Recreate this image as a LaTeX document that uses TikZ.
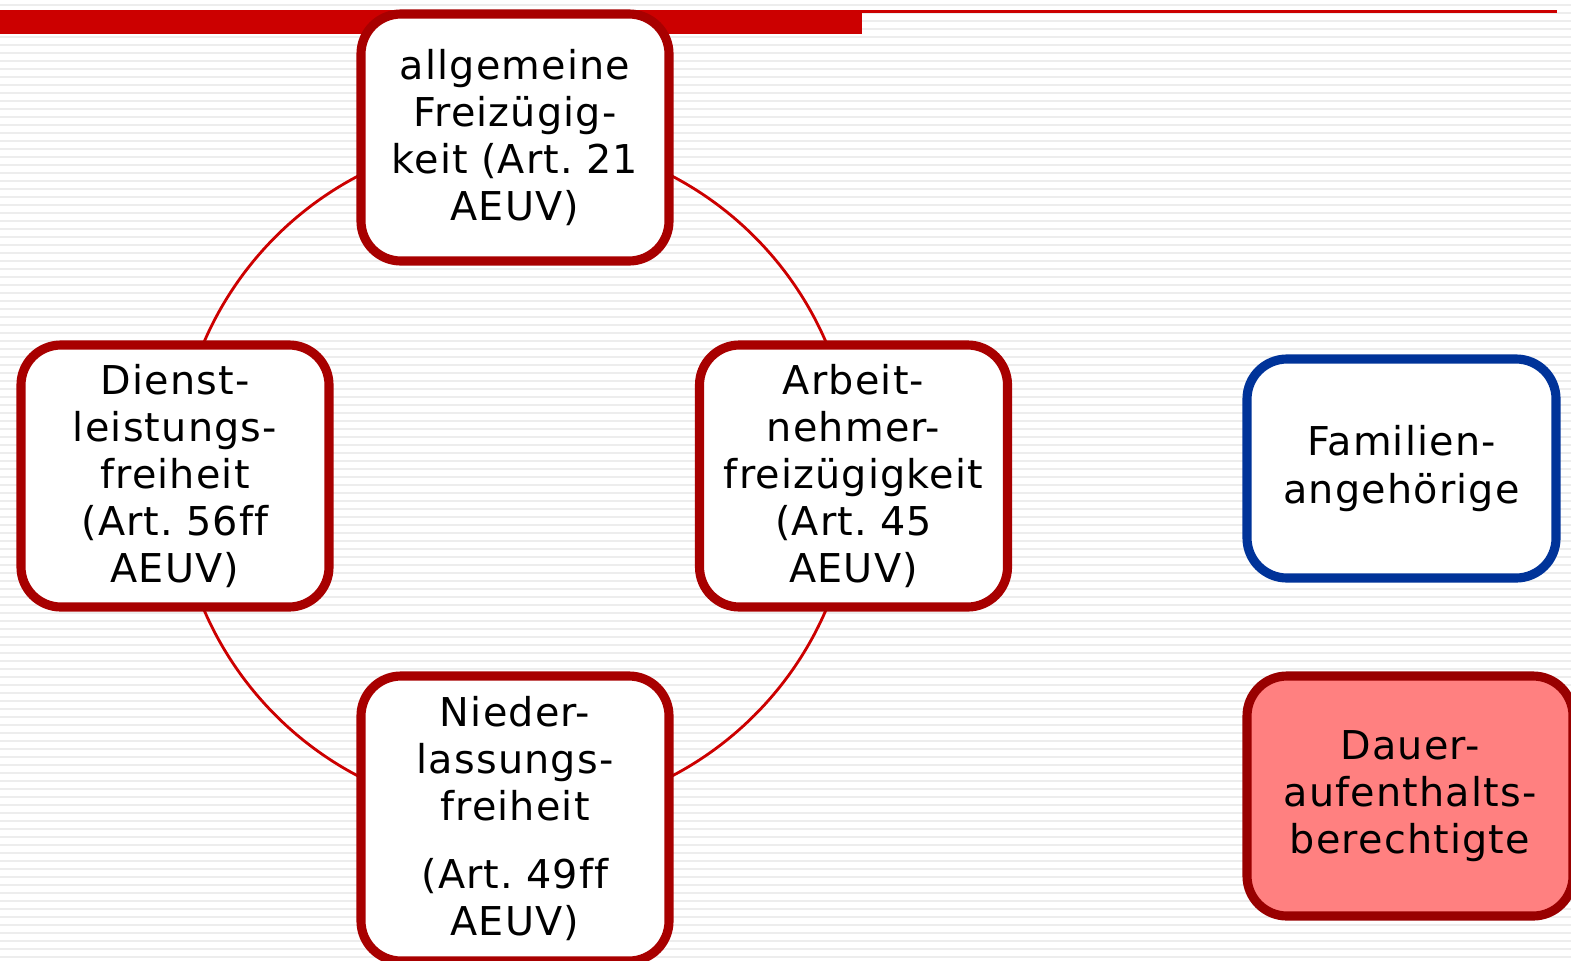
\documentclass[tikz,border=0pt]{standalone}
\usepackage{fontspec}
\setmainfont{DejaVu Sans}[LetterSpace=3,Ligatures=NoCommon]
\definecolor{balkenrot}{HTML}{CC0000}
\definecolor{randrot}{HTML}{A80000}
\definecolor{randblau}{HTML}{003399}
\definecolor{dauerrot}{HTML}{FF8080}
\definecolor{dauerrand}{HTML}{990000}

\begin{document}
\frenchspacing
\begin{tikzpicture}[
  streifen/.style={gray!14,line width=0.022cm},
  freiheit/.style={draw=randrot,fill=white,line width=2.6pt,rounded corners=0.4cm,
    minimum width=3.08cm,inner sep=0pt,text width=3.0cm,align=center,
    font=\fontsize{11.3}{13.4}\selectfont},
  gruppe/.style={freiheit,draw=randblau},
  dauer/.style={freiheit,draw=dauerrand,fill=dauerrot}]
\useasboundingbox (0,0) rectangle (15.71,9.60);
\fill[white] (0,0) rectangle (15.71,9.60);
\foreach \i in {0,...,119}
  \draw[streifen] (0,{9.55-\i*0.08})--(15.71,{9.55-\i*0.08});
\fill[balkenrot] (0,9.26) rectangle (8.62,9.50);
\fill[balkenrot] (8.62,9.47) rectangle (15.57,9.50);
\coordinate (mitte) at (5.15,4.84);
\draw[balkenrot,line width=0.8pt] (mitte) circle (3.385);
\node[freiheit,minimum height=2.47cm] (allg) at (5.15,8.225) {allgemeine\\ Freizügig-\\ keit (Art. 21\\ AEUV)};
\node[freiheit,minimum height=2.62cm] (dienst) at (1.75,4.84) {Dienst-\\ leistungs-\\ freiheit\\ (Art. 56ff\\ AEUV)};
\node[freiheit,minimum height=2.62cm] (arbeit) at (8.535,4.84) {Arbeit-\\ nehmer-\\ freizügigkeit\\ (Art. 45\\ AEUV)};
\node[freiheit,minimum height=2.85cm] (nieder) at (5.15,1.415) {Nieder-\\ lassungs-\\ freiheit\\[0.2cm] (Art. 49ff\\ AEUV)};
\node[gruppe,minimum width=3.09cm,minimum height=2.19cm] (familie) at (14.015,4.915) {Familien-\\ angehörige};
\node[dauer,minimum width=3.26cm,minimum height=2.40cm] (dauerauf) at (14.10,1.64) {Dauer-\\ aufenthalts-\\ berechtigte};
\end{tikzpicture}
\end{document}
